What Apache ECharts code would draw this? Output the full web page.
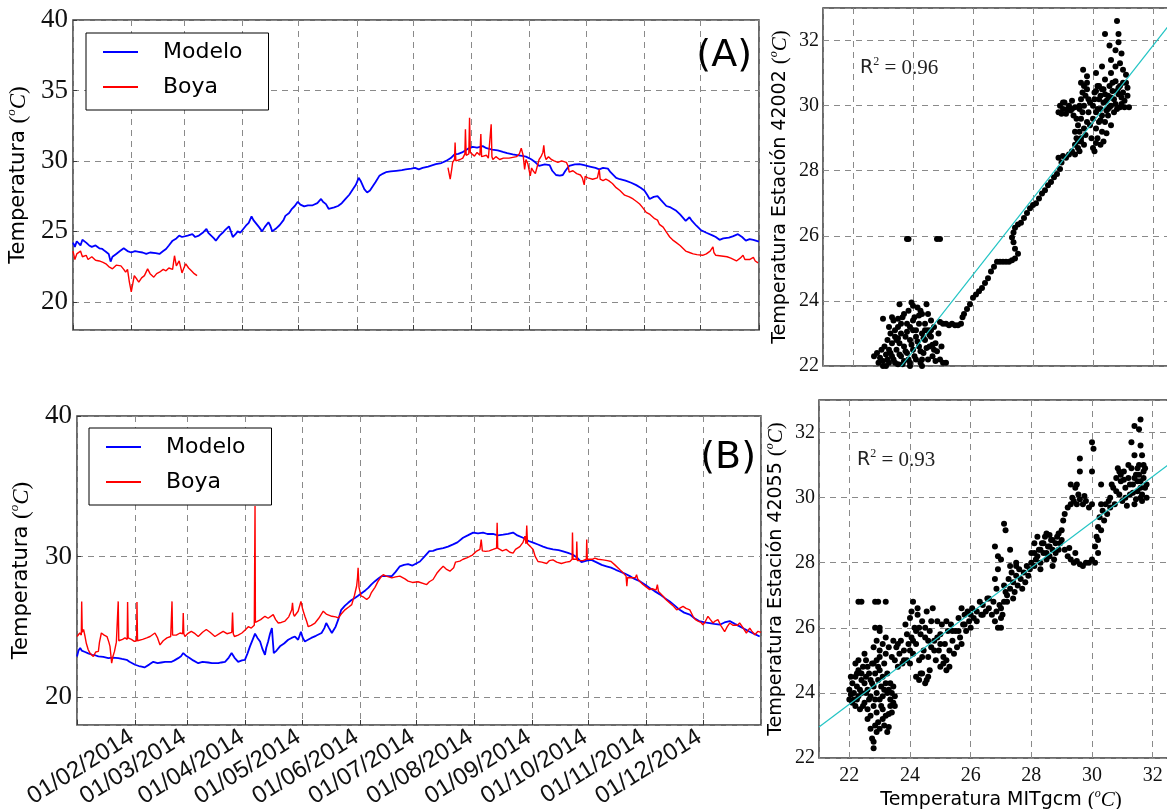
<!DOCTYPE html>
<html>
<head>
<meta charset="utf-8">
<script src="https://cdn.jsdelivr.net/npm/echarts/dist/echarts.min.js"></script>
<style>
  html, body { margin: 0; padding: 0; background: #fff; }
  #chart { width: 1167px; height: 809px; }
</style>
</head>
<body>
<div id="chart"></div>
<script>
// [day of 2014, temperature]
var modeloA = [[0,24.2],[1,23.9],[2,24.3],[3,24.35],[4,24.0],[5,24.4],[6,24.4],[7,24.2],[8.6,24.0],[10,23.9],[12,24.0],[14,23.8],[15.6,23.75],[17,23.6],[19,23.4],[20,22.85],[21,23.2],[23,23.4],[25,23.6],[27,23.8],[29,23.6],[31,23.5],[33,23.6],[35,23.55],[37,23.5],[39,23.4],[41,23.5],[42,23.55],[44,23.45],[46,23.4],[48,23.6],[49.5,23.75],[51,24.0],[53,24.34],[55,24.5],[56.5,24.7],[58,24.6],[59,24.5],[61,24.7],[63.5,24.8],[65,24.6],[67,24.7],[69,24.9],[71,25.17],[72,24.9],[73,24.8],[75,24.5],[76,24.34],[78,24.7],[79.6,24.9],[81,25.1],[83,25.35],[84,25.0],[85,24.6],[86.5,24.8],[87.6,25.0],[89,24.9],[90,24.8],[92,25.4],[93.5,25.6],[95,26.07],[96,25.8],[97,25.7],[99,25.3],[100.6,25.0],[102,25.3],[104,25.65],[105,25.4],[106,25.0],[108,25.2],[110,25.45],[112,25.8],[113,26.1],[115,26.3],[116.5,26.6],[118,26.8],[119.6,27.1],[121,26.9],[123,26.77],[125,26.85],[127.5,26.85],[130,27.0],[132,27.3],[133,27.1],[134.6,26.93],[136,26.6],[137,26.53],[139,26.7],[141,26.8],[143,27.0],[145,27.3],[147,27.6],[149,28.0],[150.5,28.3],[152,28.8],[153,28.6],[154,28.3],[155,28.0],[156.5,27.76],[158,27.9],[159.5,28.2],[161,28.5],[163,28.94],[165,29.1],[166.5,29.2],[169,29.25],[172,29.3],[175,29.35],[177,29.4],[180,29.45],[182,29.5],[184,29.4],[186,29.5],[189,29.6],[193,29.77],[196,29.85],[198.5,30.0],[201,30.2],[203,30.47],[205,30.5],[207,30.6],[210,30.85],[212.7,31.0],[215,30.95],[218,31.05],[220,30.9],[223,30.8],[226,30.75],[228.7,30.64],[231,30.55],[234,30.47],[237,30.4],[239,30.35],[241,30.3],[243.8,30.12],[246,29.9],[248,29.65],[251,29.75],[253.6,29.7],[255,29.3],[257,29.0],[259,28.95],[260.6,29.0],[262,29.3],[264,29.65],[267,29.75],[269.5,29.77],[272,29.7],[275,29.6],[278,29.5],[280,29.4],[282,29.5],[284.6,29.45],[286,29.2],[289,28.8],[291,28.7],[294,28.6],[297,28.45],[299.7,28.28],[302,28.1],[304,27.9],[305.5,27.6],[306.8,27.3],[309,27.45],[311,27.5],[313,27.2],[315.7,26.8],[318,26.7],[321,26.46],[323,26.2],[326,25.75],[328,26.0],[329,25.8],[331.7,25.4],[334,25.1],[337,24.9],[340.5,24.7],[342,24.6],[344,24.4],[346,24.5],[349,24.55],[351,24.65],[353.8,24.8],[356,24.6],[358,24.34],[360,24.45],[362,24.4],[365,24.27]];

var boyaA = [[0,23.6],[1,23.0],[2,23.4],[4,23.6],[5,23.2],[7,23.3],[8,23.0],[10,23.2],[12,22.95],[14,22.9],[16,22.8],[17.5,22.7],[19,22.5],[21,22.34],[23,22.6],[25.5,22.55],[27,22.3],[28,22.1],[29,22.3],[30,21.4],[31,20.7],[32.6,21.86],[34,21.6],[35,21.4],[36.5,21.7],[38,21.86],[39.7,22.34],[41,22.0],[43,21.75],[44.5,22.0],[46,22.1],[48,22.3],[49.5,22.2],[51,22.4],[52,22.5],[53,22.3],[54,23.27],[55,22.55],[56.5,22.9],[58,22.05],[59,22.4],[60,22.7],[61.5,22.4],[63,22.2],[64.5,22.0],[66,21.86],
  [130,null],
  [199.5,29.53],[200.7,28.7],[201.5,29.4],[202,29.9],[203,30.1],[203.3,31.3],[203.7,30.0],[204.7,29.9],[206,30.1],[207.4,30.2],[208.5,30.5],[208.8,32.24],[209.2,30.4],[210,30.3],[210.6,30.5],[211,33.07],[211.4,30.6],[212,30.5],[213.6,30.34],[215,30.6],[216.5,30.4],[217,31.9],[217.4,30.3],[218.4,30.2],[220,30.4],[221,30.2],[222.5,32.6],[222.9,30.3],[223.4,30.1],[225,30.3],[227,30.1],[229,30.2],[232,30.2],[234,30.25],[236,30.3],[237.5,30.5],[238.5,30.9],[239.5,30.4],[240.3,29.4],[241,30.1],[242,29.8],[243.3,28.94],[244,29.5],[244.8,29.3],[246,29.1],[247,29.6],[248,30.1],[249,30.3],[250,30.6],[250.5,31.1],[251,30.4],[251.7,30.1],[253,30.3],[254.5,30.1],[256,30.0],[258,29.9],[260,30.0],[262.5,29.9],[263.5,29.6],[264,29.2],[266,29.3],[268,29.1],[270,29.0],[271,28.8],[272,28.3],[272.5,28.9],[274,28.8],[275,28.9],[276.5,28.7],[277.5,28.6],[279,28.8],[280,29.4],[280.5,28.7],[282,28.6],[283.5,28.7],[285,28.6],[287,28.4],[289,28.1],[291,27.9],[293.5,27.57],[296,27.45],[298,27.3],[300,27.1],[301.5,26.94],[303,26.7],[305,26.35],[307,26.2],[309.5,25.9],[311,25.8],[312,25.5],[314,25.3],[316,24.9],[317.5,24.6],[319,24.4],[321,24.2],[323,24.0],[326,23.6],[328,23.5],[330,23.4],[332,23.35],[335,23.3],[337,23.4],[339,23.6],[340.5,23.9],[341,23.5],[342,23.3],[345,23.25],[348,23.2],[350,23.1],[353,22.9],[355,23.1],[356.5,23.3],[357.5,23.0],[358,22.95],[360,23.0],[362,23.15],[363,22.9],[364.5,22.76]];

var modeloB = [[0,22.88],[0.8,23.3],[1.7,23.48],[2.5,23.3],[3.2,23.4],[4.3,23.2],[6,23.1],[8,23.0],[10,22.95],[11.4,22.88],[14,22.85],[16.7,22.76],[19,22.8],[22,22.76],[24,22.7],[26.5,22.64],[28,22.5],[29.5,22.4],[31,22.29],[33,22.2],[34.5,22.16],[36,22.1],[37,22.05],[38.5,22.3],[40.7,22.5],[43,22.4],[45,22.45],[47,22.5],[50.5,22.5],[52,22.6],[54,22.76],[55.5,22.9],[56.7,23.12],[58,22.95],[60.3,22.76],[62,22.6],[64.7,22.4],[67,22.5],[70,22.45],[72,22.4],[75.4,22.4],[77,22.45],[79,22.5],[81,22.8],[82.5,23.12],[84,22.8],[86,22.5],[88,22.6],[89.6,22.64],[91,23.1],[92.3,23.6],[93.8,24.1],[95,24.5],[96.3,24.2],[97.7,23.95],[99,23.4],[100.3,23.0],[101,23.5],[102,23.95],[103,24.5],[104,24.9],[104.5,24.0],[105,23.12],[106.5,23.3],[108.3,23.6],[110.5,23.8],[112.7,24.07],[114.5,24.2],[116.3,24.3],[118,24.07],[119.5,24.64],[120.5,24.2],[121.6,23.95],[123,24.05],[125,24.2],[127.5,24.35],[130.5,24.55],[132,24.9],[133,25.26],[134.5,24.9],[136,24.55],[138,25.0],[139.4,25.5],[141,26.2],[143,26.5],[144.7,26.7],[146.5,26.9],[148.3,27.05],[150,27.2],[152,27.4],[154,27.6],[155.4,27.76],[157,28.0],[159,28.24],[161,28.45],[162.5,28.6],[165,28.6],[168,28.6],[170,28.9],[172.3,29.3],[174.5,29.4],[176.7,29.45],[179,29.35],[181,29.5],[183,29.64],[185.5,30.0],[188,30.38],[190,30.4],[192,30.5],[195.4,30.6],[198,30.7],[200.7,30.86],[203,31.0],[206,31.33],[208.5,31.5],[211.4,31.7],[214,31.65],[216.7,31.7],[219,31.6],[222,31.6],[224.5,31.5],[227.4,31.55],[230,31.6],[232.7,31.7],[235,31.5],[238,31.33],[241,31.1],[243.4,30.98],[246,30.85],[248.7,30.7],[251,30.6],[254,30.5],[257,30.45],[259.4,30.36],[262,30.25],[264.7,30.12],[267,29.9],[269.2,29.6],[272,29.7],[274.5,29.76],[277,29.6],[280,29.4],[282.5,29.3],[285,29.2],[287.5,29.05],[289.6,28.93],[292,28.8],[295,28.6],[297.5,28.4],[300.3,28.24],[303,28.0],[305.6,27.76],[308,27.55],[311,27.3],[313.5,27.05],[316.3,26.8],[319,26.5],[321.6,26.2],[324,26.0],[327,25.86],[329.5,25.6],[332,25.4],[335,25.3],[337.6,25.26],[340,25.2],[343,25.14],[345.5,25.3],[348.3,25.4],[351,25.2],[353.6,25.02],[356,24.85],[359,24.64],[362,24.45],[364.3,24.3]];

var boyaB = [[0,24.3],[1.5,24.55],[2.3,24.4],[2.5,26.8],[2.8,24.6],[3.5,24.8],[4.3,24.3],[5,23.8],[6,23.36],[7,23.1],[8.7,22.88],[10,23.2],[11.4,23.24],[12,23.9],[13,24.55],[14.5,24.4],[16,24.3],[17,23.9],[17.6,23.6],[18.5,22.4],[19.2,22.9],[20,23.24],[21,23.9],[21.8,24.0],[22,26.8],[22.3,24.0],[23,23.95],[24.3,24.1],[25.6,24.2],[26.8,24.1],[27,26.75],[27.3,24.2],[27.8,24.3],[29,24.1],[30.6,23.95],[31.8,24.0],[32,26.75],[32.3,24.0],[33,23.95],[35,24.1],[37.2,24.2],[39,24.3],[41.6,24.55],[43,24.2],[44.3,23.7],[46,24.0],[48,24.2],[50,24.3],[50.5,24.3],[50.7,26.8],[51,24.4],[51.5,24.3],[53,24.4],[55,24.55],[56.4,24.5],[56.7,25.98],[57,24.5],[57.6,24.3],[59,24.5],[61,24.67],[63,24.5],[64.7,24.3],[67,24.6],[69,24.8],[71,24.6],[73.6,24.3],[76,24.5],[78,24.67],[80,24.5],[82.6,24.6],[83,26.0],[83.4,24.5],[84,24.3],[86,24.4],[88,24.55],[90,24.8],[91.4,25.0],[93,24.9],[94.6,25.1],[94.9,25.2],[95,33.6],[95.2,25.3],[96,25.26],[98,25.5],[100.3,25.74],[102,25.6],[104.7,25.86],[106,25.5],[107.4,25.26],[109,25.3],[111,25.4],[113,25.7],[114.6,26.2],[115,26.7],[115.5,25.9],[116,25.74],[118,26.1],[119.5,26.8],[120.5,26.2],[121.6,25.74],[122.5,25.4],[123.4,25.0],[125,25.1],[127,25.26],[129,25.6],[131.4,26.1],[133,25.9],[136,25.74],[138,25.7],[139.4,25.62],[141,25.9],[143,26.2],[145,26.4],[146.6,26.57],[148,27.2],[149.2,27.88],[149.7,28.5],[150,29.2],[150.5,27.8],[151.5,27.2],[153,27.1],[154.6,26.93],[156,27.1],[157,27.4],[159,27.8],[160.7,28.24],[162,28.5],[163.4,28.7],[165,28.6],[168,28.48],[170,28.55],[172.3,28.6],[175,28.4],[176.7,28.24],[179,28.15],[182,28.2],[183,28.12],[186.6,28.0],[188,28.2],[190,28.36],[192,28.8],[193.7,29.07],[195.4,29.3],[197,29.1],[199,28.95],[201,29.2],[202,29.6],[204.3,29.67],[206,29.8],[208,29.9],[209.6,30.0],[211,30.1],[213,30.36],[215,30.5],[215.7,31.2],[216.3,30.4],[218,30.36],[220,30.4],[222,30.5],[223.9,30.6],[224.2,32.4],[224.5,30.6],[225.3,30.5],[227,30.4],[229,30.5],[231,30.3],[232.7,30.24],[234,30.5],[236.3,30.7],[238,31.0],[239,31.45],[239.6,30.9],[240,32.2],[240.4,30.9],[241,30.83],[242,30.7],[243.4,30.5],[244.5,30.0],[246,29.64],[248,29.6],[250.6,29.5],[252,29.7],[254,29.76],[256,29.6],[258.5,29.5],[261,29.6],[263,29.64],[264.2,29.8],[264.4,31.7],[264.7,29.8],[265.5,29.7],[266.5,29.8],[266.7,31.07],[267,29.7],[268,29.64],[270,29.7],[271.8,29.8],[272,31.2],[272.3,29.8],[273,29.76],[275,29.8],[276.3,29.88],[278,29.8],[280.7,29.76],[283,29.7],[285,29.64],[287,29.4],[289.6,29.07],[291,28.9],[293,28.6],[293.4,27.88],[293.8,28.5],[296,28.48],[298,28.5],[298.6,28.7],[299.2,28.4],[300.5,28.2],[302,28.0],[304,27.8],[305.6,27.64],[307,27.7],[309,27.6],[309.7,28.0],[310.3,27.5],[312.8,27.17],[314.5,26.9],[316.3,26.69],[318,26.5],[320,26.2],[321.5,26.3],[323.4,26.45],[325,26.3],[327,26.2],[328.7,25.74],[330,25.5],[331.4,25.4],[333,25.3],[334,25.14],[335,25.3],[336.7,25.74],[338,25.5],[339.4,25.26],[340.5,25.4],[342,25.5],[343.5,25.1],[345.6,24.64],[347,25.0],[348.3,25.26],[350,25.1],[351,25.02],[352.5,25.1],[353.6,25.26],[355,25.0],[357.2,24.55],[359,24.9],[360,24.7],[361.7,24.43],[363.4,24.67],[365,24.6]];

// [MITgcm, estación]
var scatterA = [[22.7,22.3],[22.8,22.4],[22.9,22.25],[22.95,22.5],[23.0,22.15],[23.05,22.6],[23.1,22.35],[23.15,22.8],[23.2,22.1],[23.2,22.5],[23.25,23.0],[23.3,22.3],[23.3,22.7],[23.35,23.4],[23.4,22.1],[23.4,22.9],[23.45,22.5],[23.5,23.2],[23.5,22.05],[23.55,22.7],[23.6,22.3],[23.6,23.0],[23.65,23.5],[23.7,22.15],[23.7,22.6],[23.75,22.9],[23.8,23.3],[23.8,22.4],[23.85,23.7],[23.9,22.1],[23.9,22.8],[23.95,23.95],[24.0,23.1],[24.0,22.5],[24.05,23.5],[24.1,22.2],[24.1,22.9],[24.15,23.8],[24.2,23.3],[24.2,22.6],[24.25,22.1],[24.3,23.0],[24.3,23.6],[24.35,22.4],[24.4,23.3],[24.4,22.8],[24.45,23.9],[24.5,22.2],[24.5,23.1],[24.55,22.6],[24.6,23.4],[24.6,22.9],[24.65,22.3],[24.7,23.2],[24.75,22.7],[24.8,22.45],[24.85,23.0],[24.9,22.2],[24.95,22.6],[25.0,22.1],[25.1,22.1],[23.0,23.45],[23.5,23.45],[23.2,23.2],[24.0,23.85],[23.7,23.6],[23.1,22.0],[23.9,22.0],[24.3,22.0],
  [23.0,22.0],[23.25,22.4],[23.35,22.2],[23.45,22.8],[23.55,22.35],[23.65,22.05],[23.75,22.45],[23.85,22.2],[23.95,22.65],[24.05,22.3],[24.15,22.75],[24.25,22.45],[24.35,22.85],[24.45,22.55],[24.55,22.95],[24.65,22.65],[24.75,22.15],[23.4,23.1],[23.6,23.3],[23.8,23.05],[24.0,23.4],[24.2,23.55],[24.4,23.1],[24.6,23.1],[24.7,22.5],[23.3,23.5],[23.5,22.85],[23.9,23.2],[24.1,23.1],[24.3,22.2],[22.85,22.1],[23.15,22.2],[23.55,23.9],[24.25,23.7],[24.5,23.6],
  [24.9,23.35],[25.0,23.3],[25.1,23.3],[25.2,23.25],[25.3,23.3],[25.4,23.25],[25.5,23.25],[25.6,23.3],[25.65,23.5],[25.7,23.6],[25.8,23.75],[25.9,23.9],[26.0,24.1],[26.1,24.2],[26.2,24.3],[26.3,24.4],[26.4,24.55],[26.5,24.7],[26.6,24.9],[26.7,25.05],[26.8,25.2],[26.9,25.2],[27.0,25.2],[27.1,25.2],[27.2,25.2],[27.3,25.25],[27.4,25.3],[27.5,25.45],[27.4,25.6],[27.35,25.8],[27.3,25.95],[27.35,26.1],[27.4,26.25],[27.5,26.35],[27.6,26.4],[27.7,26.55],[27.8,26.7],[27.9,26.85],[28.0,26.95],[28.1,27.0],[28.2,27.15],[28.3,27.3],[28.4,27.4],[28.5,27.55],[28.6,27.65],[28.7,27.8],[28.8,27.9],[28.9,28.05],[28.95,28.25],[28.85,28.4],[29.0,28.45],[29.1,28.4],[29.2,28.5],
  [29.3,28.6],[29.4,28.8],[29.5,28.7],[29.45,29.0],[29.55,29.2],[29.6,28.9],[29.5,29.4],[29.6,29.6],[29.7,29.3],[29.65,29.8],[29.7,30.0],[29.75,30.3],[29.6,30.2],[29.8,30.5],[29.7,30.6],[29.75,29.1],[29.8,29.5],[29.85,29.8],[29.9,30.1],[29.9,29.4],[29.8,30.9],[29.4,28.5],[29.55,28.6],
  [28.85,29.8],[28.9,30.0],[29.0,29.9],[29.05,30.1],[29.1,29.75],[29.2,30.0],[29.25,29.85],[29.3,30.15],[29.35,29.7],[29.4,29.95],
  [30.0,30.0],[30.05,30.4],[30.1,29.8],[30.15,30.6],[30.2,30.2],[30.25,29.9],[30.3,30.5],[30.35,30.1],[30.4,30.8],[30.45,29.85],[30.5,30.3],[30.55,30.6],[30.6,30.0],[30.65,30.45],[30.7,30.2],[30.75,30.75],[30.8,29.9],[30.85,30.35],[30.9,30.6],[30.95,30.05],[31.0,30.4],[31.05,30.15],[31.1,30.7],[31.15,30.3],[31.2,29.95],[31.1,30.95],[30.0,29.6],[30.1,29.3],[30.15,29.0],[30.25,28.8],[30.3,29.2],[30.4,29.5],[30.5,29.7],[30.6,29.4],[30.0,28.7],[30.2,29.5],
  [30.05,30.2],[30.15,29.9],[30.25,30.3],[30.35,30.5],[30.45,30.15],[30.55,29.95],[30.65,30.7],[30.75,30.05],[30.85,30.55],[30.95,30.25],[31.05,29.95],[31.15,30.55],[30.2,30.6],[30.4,30.35],[30.6,30.25],[30.8,30.45],[31.0,30.7],[30.3,29.7],[30.5,29.9],[30.7,29.8],[30.9,29.95],[30.1,30.45],[29.55,29.9],[29.65,30.4],[29.85,30.2],[29.6,29.0],[29.7,28.8],[29.5,28.9],[29.4,29.2],[29.45,29.6],[29.55,30.0],[29.8,30.7],[29.0,30.1],[29.15,29.9],[29.3,29.9],[28.95,29.75],[30.25,29.55],[30.35,28.9],[30.45,29.15],[30.1,28.85],[29.95,29.0],[30.05,28.6],
  [30.8,32.6],[30.4,32.2],[30.85,32.2],[30.55,31.85],[30.75,31.7],[30.85,31.95],[30.95,31.6],[30.6,31.4],[30.3,31.2],[30.75,31.2],[30.9,31.3],[29.67,31.1],[29.6,30.7],[30.1,31.0],[30.6,31.0],[31.0,31.1],
  [23.8,25.9],[23.85,25.9],[24.8,25.9],[24.9,25.9]];

var scatterB = [[22.0,23.8],[22.0,24.1],[22.05,23.95],[22.1,24.3],[22.1,23.7],[22.15,24.0],[22.2,24.5],[22.2,23.6],[22.25,24.2],[22.3,23.9],[22.3,24.7],[22.35,23.5],[22.4,24.4],[22.4,24.0],[22.45,24.8],[22.5,23.7],[22.5,24.3],[22.55,25.0],[22.6,24.1],[22.6,23.5],[22.65,24.6],[22.7,23.9],[22.7,24.4],[22.75,24.9],[22.8,24.2],[22.8,23.6],[22.85,24.6],[22.9,24.0],[22.9,25.0],[22.95,24.4],[23.0,23.8],[23.0,24.7],[23.05,24.2],[23.1,24.5],[23.1,23.9],[23.15,24.9],[23.2,24.3],[23.25,24.6],[23.3,24.1],[23.35,23.8],[23.4,24.0],[23.45,23.7],[23.5,23.6],[22.3,25.0],[22.5,25.2],[22.2,24.9],
  [22.05,24.5],[22.15,23.8],[22.25,24.6],[22.35,24.1],[22.45,23.6],[22.55,24.5],[22.65,23.8],[22.75,24.3],[22.85,23.8],[22.95,24.8],[23.05,23.6],[23.15,24.1],[23.25,24.0],[23.35,24.3],[22.4,24.6],[22.6,24.8],[22.8,24.9],[23.0,25.1],[22.55,24.0],[22.25,23.8],[22.9,23.4],[23.1,23.5],[23.5,23.9],[23.45,24.2],
  [22.6,23.2],[22.7,22.9],[22.75,22.6],[22.8,22.3],[22.8,22.5],[22.85,23.0],[22.9,22.8],[22.95,23.1],[23.0,22.9],[23.1,23.2],[23.15,23.0],[23.2,23.3],[23.3,23.35],[23.4,23.4],[23.3,22.95],[23.25,22.8],[23.35,23.6],[22.7,23.3],
  [22.8,25.4],[22.9,25.6],[23.0,25.3],[23.0,25.9],[23.1,25.5],[23.2,25.2],[23.2,25.7],[23.3,25.4],[23.4,25.1],[23.45,25.6],[22.85,26.0],[23.0,26.0],
  [22.3,26.8],[22.4,26.8],[22.85,26.8],[22.95,26.8],[23.2,26.8],
  [23.5,25.0],[23.55,25.4],[23.6,24.8],[23.65,25.2],[23.7,25.6],[23.75,24.9],[23.8,25.3],[23.85,26.1],[23.9,25.0],[23.95,25.5],[24.0,26.3],[24.0,24.9],[24.05,25.7],[24.1,25.2],[24.1,26.8],[24.15,26.0],[24.2,25.5],[24.2,24.5],[24.25,26.4],[24.3,25.0],[24.3,24.4],[24.35,25.8],[24.4,26.2],[24.4,24.6],[24.45,25.3],[24.5,25.7],[24.5,24.3],[24.55,26.5],[24.6,25.1],[24.6,24.5],[24.65,25.9],[24.7,25.4],[24.75,26.6],[24.8,25.6],[24.85,25.0],[24.9,26.2],[24.95,25.3],[25.0,25.8],[25.0,24.8],[25.05,26.1],[25.1,25.1],[25.15,25.5],[25.2,26.2],[25.2,24.7],[25.25,25.9],[25.3,25.3],[25.35,26.1],[25.4,25.6],[25.45,25.2],[25.5,25.9],[25.55,25.4],[25.6,26.3],[25.65,25.7],[25.7,25.5],[25.75,26.1],[25.8,26.4],[25.85,25.9],[25.9,26.5],[25.95,26.2],[26.0,26.0],[26.05,26.6],[26.1,26.3],[26.2,26.5],[26.3,26.8],[26.35,26.4],[26.4,26.7],[26.5,26.5],[26.55,26.9],[26.6,26.6],[26.7,26.4],[26.75,26.8],[26.8,26.2],[26.85,26.5],[26.9,26.0],[26.95,26.7],[27.0,26.3],
  [23.6,25.5],[23.8,25.0],[24.0,25.3],[24.2,25.9],[24.4,25.1],[24.6,25.6],[24.8,25.3],[25.0,25.5],[25.2,25.0],[25.4,25.9],[24.1,25.6],[24.3,26.0],[24.5,26.0],[24.7,26.2],[24.9,25.7],[25.1,24.9],[25.3,24.8],[24.35,24.6],[24.55,24.4],[24.65,24.7],[23.9,25.8],[24.05,26.5],[24.25,26.6],[25.6,25.9],[25.8,26.1],[26.0,26.4],[26.2,26.2],[26.4,26.4],[26.6,26.9],[25.7,26.6],
  [27.0,26.0],[27.05,26.4],[27.1,26.8],[27.15,27.1],[27.0,26.6],
  [27.1,27.3],[27.2,27.0],[27.25,27.5],[27.3,27.2],[27.35,27.7],[27.4,27.4],[27.45,27.1],[27.5,27.6],[27.55,27.3],[27.6,27.8],[27.65,27.5],[27.7,27.2],[27.75,27.7],[27.8,27.4],[27.85,27.9],[27.9,27.6],[27.95,27.8],[28.0,28.0],[27.3,27.9],[27.5,27.9],[27.2,26.8],[27.4,26.9],
  [27.1,29.2],[27.15,29.0],[26.8,28.5],[26.9,28.2],[27.0,28.1],[26.8,27.5],[26.9,27.8],[27.3,28.4],[27.5,28.0],[26.85,27.2],
  [28.0,28.3],[28.1,28.6],[28.15,28.1],[28.2,28.8],[28.25,28.4],[28.3,28.0],[28.35,28.6],[28.4,28.3],[28.45,28.8],[28.5,28.1],[28.55,28.5],[28.6,28.2],[28.65,28.7],[28.7,28.4],[28.75,28.1],[28.8,28.6],[28.85,28.8],[28.9,28.4],[28.95,28.6],[29.0,28.7],[28.3,27.8],[28.1,27.9],[28.7,27.9],[28.5,28.9],
  [28.2,28.2],[28.4,28.6],[28.6,28.5],[28.8,28.3],[28.3,28.4],[28.5,28.3],[28.7,28.7],[28.9,28.9],[28.1,28.3],[28.6,28.85],
  [29.0,29.0],[29.05,29.3],[29.1,29.5],[29.2,29.7],[29.3,29.8],[29.4,29.9],[29.5,29.8],[29.6,29.95],[29.7,29.8],[29.8,29.9],[29.9,29.7],[30.0,29.8],[29.35,30.0],[29.55,30.1],[29.75,30.05],
  [29.1,28.4],[29.2,28.2],[29.3,28.1],[29.4,28.0],[29.5,28.05],[29.6,27.95],[29.7,27.9],[29.8,28.0],[29.9,28.0],[30.0,28.1],[30.1,28.0],[30.2,28.3],[29.45,28.3],[29.25,28.45],
  [30.1,28.5],[30.15,28.8],[30.2,29.1],[30.25,29.4],[30.3,29.0],[30.35,29.6],[30.4,29.3],[30.45,29.8],[30.5,29.5],[30.55,29.9],[30.2,28.7],[30.6,29.7],[30.3,29.8],
  [30.6,30.0],[30.7,30.3],[30.75,29.8],[30.8,30.6],[30.9,30.1],[30.95,30.5],[31.0,29.9],[31.05,30.8],[31.1,30.3],[31.15,29.75],[31.2,30.6],[31.25,30.1],[31.3,30.9],[31.35,30.4],[31.4,29.8],[31.45,30.7],[31.5,30.2],[31.55,31.0],[31.6,30.5],[31.65,29.9],[31.7,30.8],[31.75,30.3],[31.8,30.0],[31.7,31.0],[31.6,30.0],[31.5,30.9],[30.85,30.9],[31.2,31.0],
  [30.65,30.4],[30.8,30.2],[30.95,30.7],[31.1,30.0],[31.25,30.4],[31.4,30.6],[31.5,30.5],[31.6,30.3],[31.7,30.6],[31.8,30.4],[31.35,30.15],[31.05,30.55],[30.9,30.8],[31.45,29.95],[31.55,30.7],[31.65,30.1],[31.75,30.9],
  [31.4,32.2],[31.6,32.4],[31.55,32.1],[31.3,31.7],[31.6,31.6],[31.4,31.3],[31.65,31.3],[30.0,31.7],[30.05,31.5],[29.6,31.2],[29.6,30.8],[29.5,30.4],[30.0,30.8],[30.3,30.4],[29.3,30.4],[29.45,30.3]];

// linear fits [slope, intercept]
var fitA = [1.174, -5.72];
var fitB = [0.70, 8.25];
var r2A = '0.96';
var r2B = '0.93';

var seriesNames = ['Modelo', 'Boya'];

var DAY = 864e5;
var T0 = Date.UTC(2014, 0, 1);
function toTime(arr) {
  return arr.map(function (p) { return [T0 + p[0] * DAY, p[1]]; });
}
function fitLine(fit) {
  return [21, 33].map(function (x) { return [x, fit[0] * x + fit[1]]; });
}
function pad2(n) { return (n < 10 ? '0' : '') + n; }
function dateLabel(value) {
  var d = new Date(value);
  if (d.getUTCFullYear() !== 2014 || d.getUTCMonth() === 0) return '';
  return pad2(d.getUTCDate()) + '/' + pad2(d.getUTCMonth() + 1) + '/' + d.getUTCFullYear();
}

var SANS = 'DejaVu Sans';
var SERIF = 'Liberation Serif';
var dashed = { show: true, lineStyle: { color: '#8a8a8a', type: [6, 5], width: 1 } };
var box = { show: true, borderColor: '#3a3a3a', borderWidth: 1.5, backgroundColor: 'transparent', containLabel: false, outerBoundsMode: 'none' };

function unitName(label, size) {
  return {
    text: '{t|' + label + ' }{p|(}{o|o}{c|C}{p|)}',
    rich: {
      t: { fontFamily: SANS, fontSize: size, color: '#000', lineHeight: size + 6 },
      p: { fontFamily: SERIF, fontSize: size + 2, color: '#000', lineHeight: size + 6 },
      o: { fontFamily: SERIF, fontStyle: 'italic', fontSize: Math.round(size * 0.62), color: '#000', verticalAlign: 'top', lineHeight: size + 6 },
      c: { fontFamily: SERIF, fontStyle: 'italic', fontSize: size + 2, color: '#000', lineHeight: size + 6 }
    }
  };
}

function timeAxis(idx, showLabels) {
  return {
    type: 'time', gridIndex: idx,
    min: T0, max: T0 + 365 * DAY,
    splitNumber: 12, minInterval: 28 * DAY, maxInterval: 31 * DAY,
    axisLine: { show: false },
    axisTick: { show: true, inside: true, length: 5, lineStyle: { color: '#3a3a3a' } },
    splitLine: dashed,
    axisLabel: {
      show: showLabels, rotate: 32, margin: 8, hideOverlap: false,
      padding: [0, 4, 0, 0],
      formatter: dateLabel,
      fontFamily: 'Liberation Sans', fontSize: 24, color: '#111'
    }
  };
}

function tempAxis(idx, split, gap) {
  var n = unitName('Temperatura', 21);
  return {
    type: 'value', gridIndex: idx, min: 18, max: 40, splitNumber: split,
    name: n.text, nameLocation: 'middle', nameGap: gap,
    nameTextStyle: { rich: n.rich },
    axisLine: { show: false },
    axisTick: { show: true, inside: true, length: 4, lineStyle: { color: '#3a3a3a' } },
    splitLine: dashed,
    axisLabel: { showMinLabel: false, margin: 5, fontFamily: SERIF, fontSize: 27, color: '#111' }
  };
}

function scatterY(idx, label) {
  var n = unitName(label, 19);
  return {
    type: 'value', gridIndex: idx, min: 22, max: 33, splitNumber: 5,
    name: n.text, nameLocation: 'middle', nameGap: 30,
    nameTextStyle: { rich: n.rich },
    axisLine: { show: false },
    axisTick: { show: false },
    splitLine: dashed,
    axisLabel: { showMaxLabel: false, margin: 4, fontFamily: SERIF, fontSize: 20, color: '#111' }
  };
}

function scatterX(idx, showLabels) {
  var n = unitName('Temperatura MITgcm', 19);
  return {
    type: 'value', gridIndex: idx, min: 21, max: 33, splitNumber: 6,
    name: showLabels ? n.text : '', nameLocation: 'middle', nameGap: 30,
    nameTextStyle: { rich: n.rich },
    axisLine: { show: false },
    axisTick: { show: false },
    splitLine: dashed,
    axisLabel: { show: showLabels, showMinLabel: false, showMaxLabel: false, margin: 8, fontFamily: SERIF, fontSize: 20, color: '#111' }
  };
}

function legendAt(left, top) {
  return {
    data: seriesNames, orient: 'vertical', left: left, top: top,
    icon: 'rect', itemWidth: 35, itemHeight: 2, itemGap: 13,
    padding: [8, 26, 12, 17],
    borderColor: '#000', borderWidth: 1, backgroundColor: '#fff',
    textStyle: { fontFamily: SANS, fontSize: 22, color: '#000', padding: [0, 0, 0, 20] },
    selectedMode: false
  };
}

function r2Text(x, y, val) {
  return {
    type: 'text', x: x, y: y, z: 10,
    style: {
      text: '{r|R}{s|2}{e| = ' + val + '}',
      rich: {
        r: { fontFamily: SANS, fontSize: 19, fill: '#222', lineHeight: 24 },
        s: { fontFamily: SERIF, fontSize: 12, fill: '#222', verticalAlign: 'top', lineHeight: 24 },
        e: { fontFamily: SERIF, fontSize: 21, fill: '#222', lineHeight: 24 }
      },
      verticalAlign: 'middle'
    }
  };
}

var chart = echarts.init(document.getElementById('chart'), null, { renderer: 'canvas' });
chart.setOption({
  animation: false,
  useUTC: true,
  backgroundColor: '#fff',
  grid: [
    Object.assign({ left: 73, top: 20, width: 686, height: 310 }, box),
    Object.assign({ left: 77, top: 416, width: 684, height: 309 }, box),
    Object.assign({ left: 823, top: 8, width: 360, height: 358 }, box),
    Object.assign({ left: 819, top: 400, width: 364, height: 358 }, box)
  ],
  xAxis: [timeAxis(0, false), timeAxis(1, true), scatterX(2, false), scatterX(3, true)],
  yAxis: [tempAxis(0, 5, 40), tempAxis(1, 2, 42),
          scatterY(2, 'Temperatura Estación 42002'), scatterY(3, 'Temperatura Estación 42055')],
  legend: [legendAt(86, 33), legendAt(89, 428)],
  graphic: [
    { type: 'text', x: 752, y: 56, z: 10, style: { text: '(A)', fontFamily: SANS, fontSize: 38, fill: '#000', align: 'right', verticalAlign: 'middle' } },
    { type: 'text', x: 756, y: 458, z: 10, style: { text: '(B)', fontFamily: SANS, fontSize: 38, fill: '#000', align: 'right', verticalAlign: 'middle' } },
    r2Text(860, 68, r2A),
    r2Text(857, 460, r2B)
  ],
  series: [
    { name: 'Modelo', type: 'line', xAxisIndex: 0, yAxisIndex: 0, data: toTime(modeloA), showSymbol: false, color: '#0000ff', lineStyle: { width: 1.8, color: '#0000ff' } },
    { name: 'Boya', type: 'line', xAxisIndex: 0, yAxisIndex: 0, data: toTime(boyaA), showSymbol: false, connectNulls: false, color: '#ff0000', lineStyle: { width: 1.4, color: '#ff0000' } },
    { name: 'Modelo', type: 'line', xAxisIndex: 1, yAxisIndex: 1, data: toTime(modeloB), showSymbol: false, color: '#0000ff', lineStyle: { width: 1.8, color: '#0000ff' } },
    { name: 'Boya', type: 'line', xAxisIndex: 1, yAxisIndex: 1, data: toTime(boyaB), showSymbol: false, color: '#ff0000', lineStyle: { width: 1.4, color: '#ff0000' } },
    { type: 'scatter', xAxisIndex: 2, yAxisIndex: 2, data: scatterA, symbolSize: 6, itemStyle: { color: '#000', opacity: 1 } },
    { type: 'line', xAxisIndex: 2, yAxisIndex: 2, data: fitLine(fitA), showSymbol: false, clip: true, lineStyle: { color: '#22c4c4', width: 1.2 } },
    { type: 'scatter', xAxisIndex: 3, yAxisIndex: 3, data: scatterB, symbolSize: 6, itemStyle: { color: '#000', opacity: 1 } },
    { type: 'line', xAxisIndex: 3, yAxisIndex: 3, data: fitLine(fitB), showSymbol: false, clip: true, lineStyle: { color: '#22c4c4', width: 1.2 } }
  ]
});
</script>
</body>
</html>
